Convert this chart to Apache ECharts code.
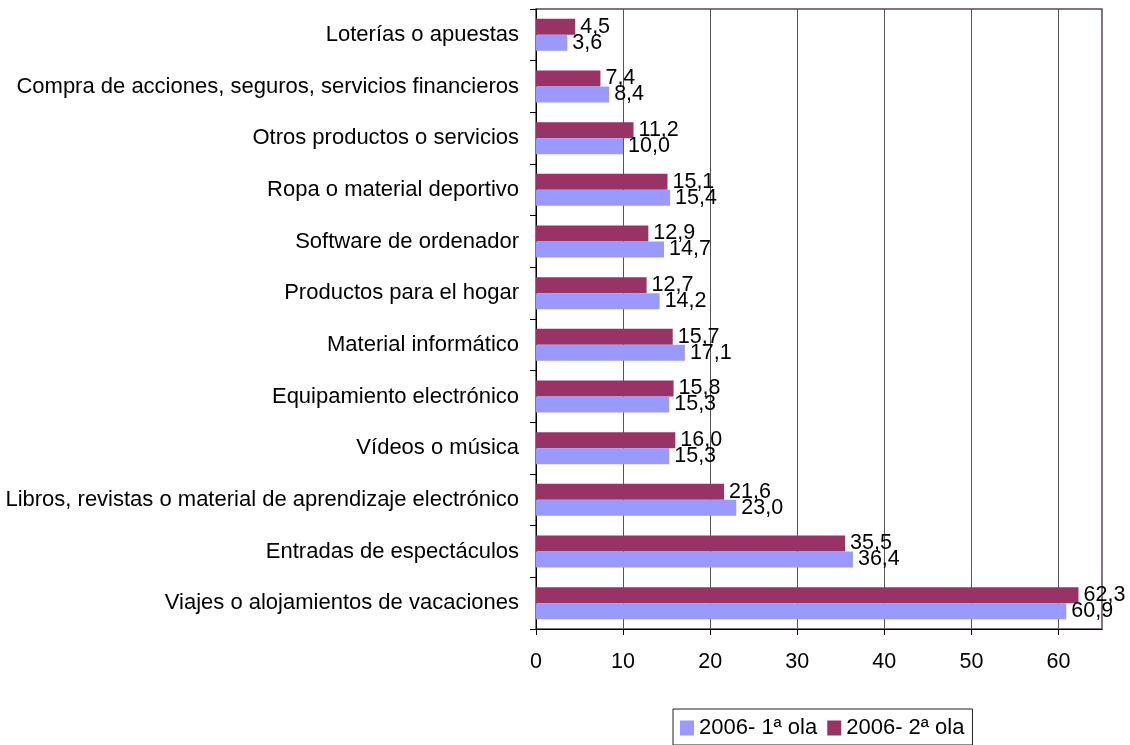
<!DOCTYPE html>
<html>
<head>
<meta charset="utf-8">
<script src="https://cdn.jsdelivr.net/npm/echarts@6/dist/echarts.min.js"></script>
<style>html,body{margin:0;padding:0;background:#fff;}#chart{width:1130px;height:745px;}</style>
</head>
<body>
<div id="chart"></div>
<script>
const categories = [
  "Loterías o apuestas",
  "Compra de acciones, seguros, servicios financieros",
  "Otros productos o servicios",
  "Ropa o material deportivo",
  "Software de ordenador",
  "Productos para el hogar",
  "Material informático",
  "Equipamiento electrónico",
  "Vídeos o música",
  "Libros, revistas o material de aprendizaje electrónico",
  "Entradas de espectáculos",
  "Viajes o alojamientos de vacaciones"
];
const seriesNames = ["2006- 1ª ola", "2006- 2ª ola"];
const ola1 = [3.6, 8.4, 10.0, 15.4, 14.7, 14.2, 17.1, 15.3, 15.3, 23.0, 36.4, 60.9];
const ola2 = [4.5, 7.4, 11.2, 15.1, 12.9, 12.7, 15.7, 15.8, 16.0, 21.6, 35.5, 62.3];
const xTicks = [0, 10, 20, 30, 40, 50, 60];

const FONT = "Liberation Sans, Arial, sans-serif";
const FS = 21.5;
const FS_CAT = 22;
const fmt = p => p.value.toFixed(1).replace('.', ',');
const chart = echarts.init(document.getElementById('chart'));
const labelCfg = {show: true, position: 'right', distance: 5, formatter: fmt, color: '#000', fontSize: FS, fontFamily: FONT};
chart.setOption({
  animation: false,
  textStyle: {fontFamily: FONT},
  grid: {left: 536, right: 28, top: 9, bottom: 116, show: true, borderColor: '#5a485a', borderWidth: 1.5, containLabel: false},
  legend: {
    data: seriesNames, bottom: 0, left: 673, padding: [8, 8, 6, 7],
    borderColor: '#222', borderWidth: 1, itemWidth: 14, itemHeight: 15, itemGap: 10,
    textStyle: {fontSize: FS_CAT, color: '#000', fontFamily: FONT}, icon: 'rect'
  },
  xAxis: {
    type: 'value', min: 0, max: 65, interval: 10,
    axisLine: {show: true, lineStyle: {color: '#000', width: 1}},
    axisTick: {show: true, length: 6, lineStyle: {color: '#000'}, customValues: xTicks},
    axisLabel: {fontSize: FS, color: '#000', margin: 22, fontFamily: FONT, customValues: xTicks, formatter: v => String(v)},
    splitLine: {show: true, lineStyle: {color: '#555', width: 1}}
  },
  yAxis: {
    type: 'category', data: categories, inverse: true,
    axisLine: {show: true, lineStyle: {color: '#000', width: 1}},
    axisTick: {show: true, length: 6, lineStyle: {color: '#000'}},
    axisLabel: {fontSize: FS_CAT, color: '#000', margin: 17, fontFamily: FONT}
  },
  series: [
    {name: seriesNames[1], type: 'bar', data: ola2, itemStyle: {color: '#993366'}, barWidth: 16, barGap: '0%', label: labelCfg},
    {name: seriesNames[0], type: 'bar', data: ola1, itemStyle: {color: '#9999FF'}, barWidth: 16, barGap: '0%', label: labelCfg}
  ]
});
</script>
</body>
</html>
